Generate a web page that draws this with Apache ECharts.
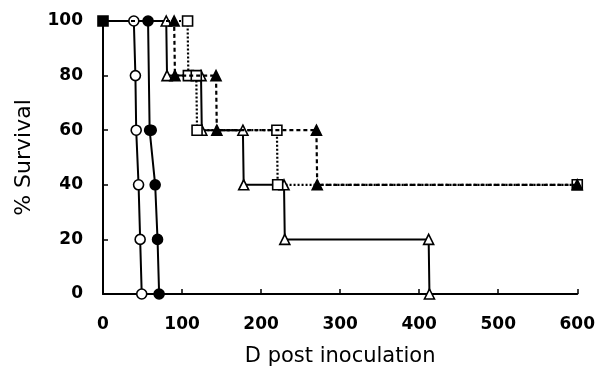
<!DOCTYPE html>
<html>
<head>
<meta charset="utf-8">
<script src="https://cdn.jsdelivr.net/npm/echarts@6/dist/echarts.min.js"></script>
<style>
html,body{margin:0;padding:0;background:#fff;}
#chart{width:598px;height:372px;}
</style>
</head>
<body>
<div id="chart"></div>
<script>
// Data (days post inoculation, % survival)
const xTicks = [0, 100, 200, 300, 400, 500, 600];
const yTicks = [0, 20, 40, 60, 80, 100];

const openCircleDays = [0, 39, 41, 42, 45, 47, 49];
const openCircleSurv = [100, 100, 80, 60, 40, 20, 0];

const filledCircleDays = [0, 57, 59, 61, 66, 69, 71];
const filledCircleSurv = [100, 100, 60, 60, 40, 20, 0];

const openTriangleDays = [0, 80, 81, 124, 125, 177, 178, 229, 230, 412, 413];
const openTriangleSurv = [100, 100, 80, 80, 60, 60, 40, 40, 20, 20, 0];

const filledTriangleDays = [0, 90, 91, 143, 144, 270, 271, 600];
const filledTriangleSurv = [100, 100, 80, 80, 60, 60, 40, 40];

const openSquareDays = [0, 107, 108, 118, 119, 220, 221, 600];
const openSquareSurv = [100, 100, 80, 80, 60, 60, 40, 40];

function pts(days, surv) { return days.map((d, i) => [d, surv[i]]); }

const TICK_FONT = 'DejaVu Sans';
const NAME_FONT = 'DejaVu Sans';

function mk(name, days, surv, symbol, filled, lineType, size, startFilledSquare, z) {
  const data = pts(days, surv).map((p, i) => {
    if (i === 0) {
      return startFilledSquare
        ? { value: p, symbol: 'rect', symbolSize: 10, itemStyle: { color: '#000', borderColor: '#000' } }
        : { value: p, symbol: 'none' };
    }
    return p;
  });
  return {
    name: name,
    type: 'line',
    data: data,
    symbol: symbol,
    symbolSize: size,
    showAllSymbol: true,
    clip: false,
    animation: false,
    z: z,
    lineStyle: { color: '#000', width: lineType === 'solid' ? 2 : 2.2, type: lineType === 'dotted' ? [2, 2] : (lineType === 'dashed' ? [4, 3] : 'solid') },
    itemStyle: { color: filled ? '#000' : '#fff', borderColor: '#000', borderWidth: 1.6 }
  };
}

const chart = echarts.init(document.getElementById('chart'), null, { renderer: 'canvas' });
chart.setOption({
  backgroundColor: '#fff',
  animation: false,
  grid: { left: 103, right: 19, top: 21, bottom: 74, containLabel: false },
  xAxis: {
    type: 'value', min: 0, max: 600, interval: 100,
    name: 'D post inoculation', nameLocation: 'middle', nameGap: 52,
    nameTextStyle: { color: '#000', fontSize: 21, fontFamily: NAME_FONT },
    axisLine: { show: true, onZero: false, lineStyle: { color: '#000', width: 2 } },
    axisTick: { show: true, inside: true, length: 5, lineStyle: { color: '#000', width: 1.5 } },
    axisLabel: { color: '#000', fontSize: 17, fontFamily: TICK_FONT, fontWeight: 'bold', margin: 22,
      customValues: xTicks },
    splitLine: { show: false }
  },
  yAxis: {
    type: 'value', min: 0, max: 100, interval: 20,
    name: '% Survival', nameLocation: 'middle', nameGap: 68, nameRotate: 90,
    nameTextStyle: { color: '#000', fontSize: 22, fontFamily: NAME_FONT },
    axisLine: { show: true, onZero: false, lineStyle: { color: '#000', width: 2 } },
    axisTick: { show: true, inside: true, length: 5, lineStyle: { color: '#000', width: 1.5 } },
    axisLabel: { color: '#000', fontSize: 17, fontFamily: TICK_FONT, fontWeight: 'bold', margin: 20,
      customValues: yTicks },
    splitLine: { show: false }
  },
  series: [
    mk('open circle', openCircleDays, openCircleSurv, 'circle', false, 'solid', 10, false, 4),
    mk('filled circle', filledCircleDays, filledCircleSurv, 'circle', true, 'solid', 10, false, 3),
    mk('open triangle', openTriangleDays, openTriangleSurv, 'triangle', false, 'solid', 10, false, 4),
    mk('open square', openSquareDays, openSquareSurv, 'rect', false, 'dotted', 10, true, 4),
    mk('filled triangle', filledTriangleDays, filledTriangleSurv, 'triangle', true, 'dashed', 10, false, 5)
  ]
});
</script>
</body>
</html>
